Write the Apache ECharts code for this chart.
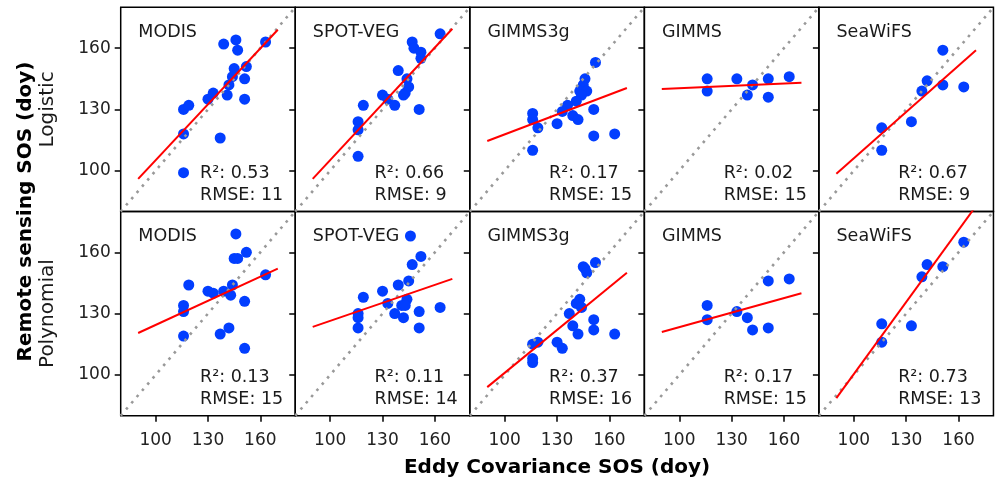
<!DOCTYPE html>
<html>
<head>
<meta charset="utf-8">
<script src="https://cdn.jsdelivr.net/npm/echarts@6/dist/echarts.min.js"></script>
<style>
html,body{margin:0;padding:0;background:#fff;}
#chart{width:997px;height:483px;}
</style>
</head>
<body>
<div id="chart"></div>
<script>
// ---------- data ----------
const sensors = ['MODIS', 'SPOT-VEG', 'GIMMS3g', 'GIMMS', 'SeaWiFS'];
const methods = ['Logistic', 'Polynomial'];
const axisRange = [80, 180];
const tickValues = [100, 130, 160];
const fitX = [90, 170];

// [Eddy Covariance SOS, Remote sensing SOS]
const modisLogistic = [[139,162],[146,164],[147,159],[163,163],[152,151],[145,150],[144,146],[151,145],[142,142],[141,137],[151,135],[130,135],[133,138],[116,130],[119,132],[116,118],[137,116],[116,99]];
const spotLogistic = [[163,167],[147,163],[148,160],[152,158],[152,155],[139,149],[144,145],[145,141],[143,138],[142,137],[130,137],[133,135],[137,132],[151,130],[119,132],[116,124],[116,120],[116,107]];
const gimms3gLogistic = [[152,153],[146,145],[145,142],[143,139],[147,139],[144,137],[141,134],[136,132],[133,129],[139,127],[142,125],[130,123],[151,130],[116,128],[116,125],[119,121],[116,110],[151,117],[163,118]];
const gimmsLogistic = [[116,145],[116,139],[133,145],[142,142],[139,137],[151,145],[151,136],[163,146]];
const seawifsLogistic = [[151,159],[142,144],[139,139],[151,142],[163,141],[133,124],[116,121],[116,110]];

const modisPolynomial = [[146,169],[152,160],[145,157],[147,157],[163,149],[144,144],[139,141],[143,139],[130,141],[133,140],[119,144],[116,134],[116,131],[151,136],[116,119],[137,120],[142,123],[151,113]];
const spotPolynomial = [[146,168],[152,158],[147,154],[145,146],[139,144],[130,141],[119,138],[133,135],[144,137],[141,134],[143,134],[137,130],[142,128],[151,131],[163,133],[116,130],[116,128],[116,123],[151,123]];
const gimms3gPolynomial = [[152,155],[145,153],[146,152],[147,150],[143,137],[141,135],[144,133],[137,130],[151,127],[139,124],[142,120],[151,122],[163,120],[130,116],[133,113],[119,116],[116,115],[116,108],[116,106]];
const gimmsPolynomial = [[151,146],[163,147],[116,134],[116,127],[133,131],[139,128],[142,122],[151,123]];
const seawifsPolynomial = [[163,165],[142,154],[151,153],[139,148],[116,125],[133,124],[116,116]];

// regression line values at fitX[0] and fitX[1]
const fitLogistic = [[96,169],[96,169.5],[114.5,140.5],[140,143],[98.5,159]];
const fitPolynomial = [[120.5,152],[123.5,147],[94,150],[121,140],[88.6,182.7]];

const r2Logistic = ['0.53', '0.66', '0.17', '0.02', '0.67'];
const rmseLogistic = ['11', '9', '15', '15', '9'];
const r2Polynomial = ['0.13', '0.11', '0.37', '0.17', '0.73'];
const rmsePolynomial = ['15', '14', '16', '15', '13'];

// ---------- layout ----------
const FONT = '"DejaVu Sans", Arial, sans-serif';
const plotLeft = 120.7, plotTop = 7.3, panelW = 174.55, panelH = 204.2;

const pointsByRow = [
  [modisLogistic, spotLogistic, gimms3gLogistic, gimmsLogistic, seawifsLogistic],
  [modisPolynomial, spotPolynomial, gimms3gPolynomial, gimmsPolynomial, seawifsPolynomial]
];
const fitsByRow = [fitLogistic, fitPolynomial];
const r2ByRow = [r2Logistic, r2Polynomial];
const rmseByRow = [rmseLogistic, rmsePolynomial];

const grids = [], xAxes = [], yAxes = [], series = [], graphics = [];
let idx = 0;
for (let r = 0; r < 2; r++) {
  for (let c = 0; c < 5; c++) {
    const L = plotLeft + c * panelW, T = plotTop + r * panelH;
    grids.push({left: L, top: T, width: panelW, height: panelH, show: true,
      borderColor: '#000', borderWidth: 1.5, backgroundColor: 'transparent', containLabel: false});
    xAxes.push({type: 'value', gridIndex: idx, min: axisRange[0], max: axisRange[1],
      axisLine: {show: false}, splitLine: {show: false},
      axisTick: {show: r === 1, length: 6, inside: false, lineStyle: {color: '#000', width: 1.5}, customValues: tickValues},
      axisLabel: {show: r === 1, customValues: tickValues, color: '#222', fontSize: 17, fontFamily: FONT, margin: 16}
    });
    yAxes.push({type: 'value', gridIndex: idx, min: axisRange[0], max: axisRange[1],
      axisLine: {show: false}, splitLine: {show: false},
      axisTick: {show: true, length: 6, inside: false, lineStyle: {color: '#000', width: 1.5}, customValues: tickValues},
      axisLabel: {show: c === 0, customValues: tickValues, color: '#222', fontSize: 17, fontFamily: FONT, margin: 10}
    });
    series.push({type: 'scatter', xAxisIndex: idx, yAxisIndex: idx, data: pointsByRow[r][c],
      symbolSize: 11, itemStyle: {color: '#023eff', opacity: 1}, z: 2, silent: true});
    series.push({type: 'line', xAxisIndex: idx, yAxisIndex: idx,
      data: [[axisRange[0], axisRange[0]], [axisRange[1], axisRange[1]]],
      showSymbol: false, symbol: 'none', clip: true, silent: true, z: 3,
      lineStyle: {color: '#999', width: 2.6, type: [2.6, 5.6], cap: 'butt'}});
    const f = fitsByRow[r][c];
    series.push({type: 'line', xAxisIndex: idx, yAxisIndex: idx,
      data: [[fitX[0], f[0]], [fitX[1], f[1]]],
      showSymbol: false, symbol: 'none', clip: true, silent: true, z: 4,
      lineStyle: {color: '#ff0000', width: 2}});
    graphics.push({type: 'text', x: L + 17.6, y: T + 25, silent: true,
      style: {text: sensors[c], fill: '#1a1a1a', font: '17.5px ' + FONT, align: 'left', verticalAlign: 'middle'}});
    graphics.push({type: 'text', x: L + 79.3, y: T + 166, silent: true,
      style: {text: 'R\u00b2: ' + r2ByRow[r][c], fill: '#1a1a1a', font: '17.5px ' + FONT, align: 'left', verticalAlign: 'middle'}});
    graphics.push({type: 'text', x: L + 79.3, y: T + 187.7, silent: true,
      style: {text: 'RMSE: ' + rmseByRow[r][c], fill: '#1a1a1a', font: '17.5px ' + FONT, align: 'left', verticalAlign: 'middle'}});
    idx++;
  }
}
// row labels
for (let r = 0; r < 2; r++) {
  graphics.push({type: 'text', x: 47.5, y: plotTop + r * panelH + panelH / 2, rotation: Math.PI / 2, silent: true,
    style: {text: methods[r], fill: '#1a1a1a', font: '20px ' + FONT, align: 'center', verticalAlign: 'middle'}});
}
graphics.push({type: 'text', x: 26, y: plotTop + panelH, rotation: Math.PI / 2, silent: true,
  style: {text: 'Remote sensing SOS (doy)', fill: '#000', font: 'bold 20px ' + FONT, align: 'center', verticalAlign: 'middle'}});
graphics.push({type: 'text', x: plotLeft + 2.5 * panelW, y: 468, silent: true,
  style: {text: 'Eddy Covariance SOS (doy)', fill: '#000', font: 'bold 20px ' + FONT, align: 'center', verticalAlign: 'middle'}});

const chart = echarts.init(document.getElementById('chart'), null, {renderer: 'canvas'});
chart.setOption({
  animation: false,
  backgroundColor: '#fff',
  grid: grids,
  xAxis: xAxes,
  yAxis: yAxes,
  series: series,
  graphic: graphics
});
</script>
</body>
</html>
